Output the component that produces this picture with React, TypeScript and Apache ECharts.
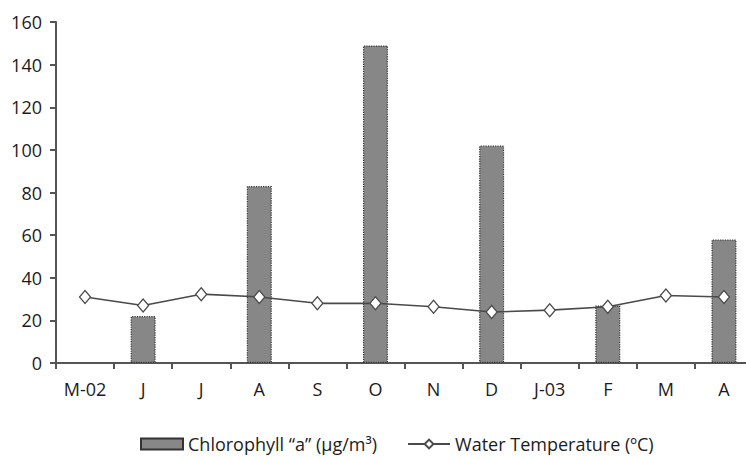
import React, { useEffect, useRef } from "react";
import * as echarts from "echarts";

const categories = ["M-02", "J", "J", "A", "S", "O", "N", "D", "J-03", "F", "M", "A"];
const chlorophyll = [null, 22, null, 83, null, 149, null, 102, null, 27, null, 58];
const waterTemp = [31, 27, 32.3, 31, 28, 28, 26.4, 23.9, 24.8, 26.4, 31.7, 31];
const yTicks = { min: 0, max: 160, interval: 20 };

const FONT = "'Open Sans', 'Noto Sans', sans-serif";
const TXT = "#1e1b1c";
const AX = "#555555";

export default function App() {
  const ref = useRef<HTMLDivElement>(null);
  useEffect(() => {
    if (!ref.current) return;
    const chart = echarts.init(ref.current, null, { renderer: "svg" });
    chart.setOption({
      animation: false,
      backgroundColor: "#ffffff",
      textStyle: { fontFamily: FONT, color: TXT },
      grid: { left: 56, top: 22, bottom: 97, width: 697, containLabel: false, outerBoundsMode: "none" },
      legend: {
        left: 135,
        top: 430,
        itemWidth: 42,
        itemHeight: 11,
        itemGap: 30,
        textStyle: { fontFamily: FONT, fontSize: 18, color: TXT },
        data: [
          { name: "Chlorophyll “a” (μg/m³)", icon: "rect" },
          { name: "Water Temperature (ºC)" },
        ],
      },
      xAxis: {
        type: "category",
        data: categories,
        boundaryGap: true,
        axisLine: { lineStyle: { color: AX, width: 2 } },
        axisTick: { show: true, length: 6, lineStyle: { color: AX, width: 2 } },
        axisLabel: { fontFamily: FONT, fontSize: 18, color: TXT, margin: 17, interval: 0 },
      },
      yAxis: {
        type: "value",
        min: yTicks.min,
        max: yTicks.max,
        interval: yTicks.interval,
        axisLine: { show: true, lineStyle: { color: AX, width: 2 } },
        axisTick: { show: true, length: 6, lineStyle: { color: AX, width: 2 } },
        splitLine: { show: false },
        axisLabel: { fontFamily: FONT, fontSize: 18, color: TXT, margin: 14 },
      },
      series: [
        {
          name: "Chlorophyll “a” (μg/m³)",
          type: "bar",
          data: chlorophyll,
          barWidth: 25,
          itemStyle: { color: "#878787", borderColor: "#333333", borderWidth: 1.2, borderType: "dotted" },
        },
        {
          name: "Water Temperature (ºC)",
          type: "line",
          data: waterTemp,
          symbol: "diamond",
          symbolSize: [11, 13],
          lineStyle: { color: "#4a4a4a", width: 1.6 },
          itemStyle: { color: "#ffffff", borderColor: "#4a4a4a", borderWidth: 1.3 },
          z: 5,
        },
      ],
    });
    return () => chart.dispose();
  }, []);
  return <div ref={ref} style={{ width: 746, height: 460, position: "absolute", left: 0, top: 0 }} />;
}
